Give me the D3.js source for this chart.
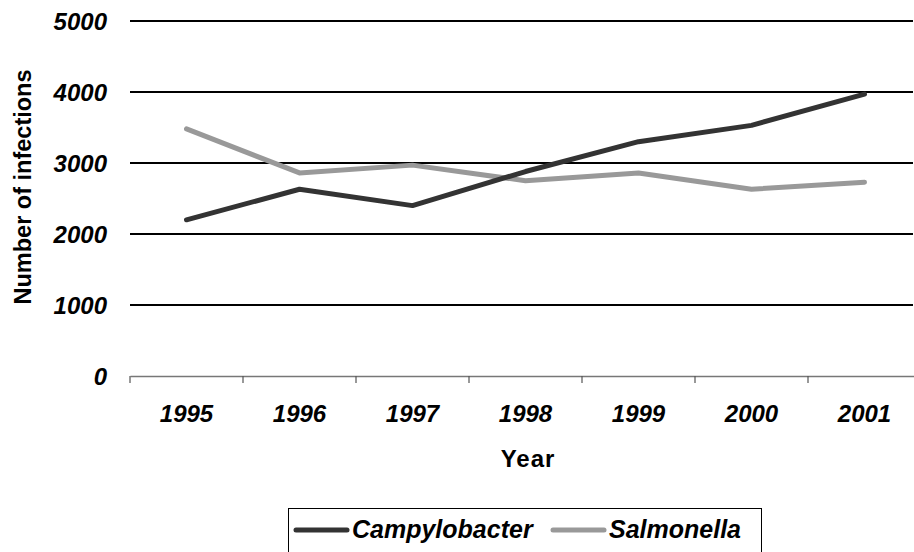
<!DOCTYPE html>
<html lang="en">
<head>
<meta charset="UTF-8">
<title>Infections</title>
<style>
  body { margin: 0; background: #fff; }
  text { font-family: "Liberation Sans", Arial, sans-serif; font-weight: bold; fill: #000; }
</style>
</head>
<body>
<script src="https://d3js.org/d3.v7.min.js"></script>
<script>
// data
var years = ["1995", "1996", "1997", "1998", "1999", "2000", "2001"];
var campylobacter = [2200, 2630, 2400, 2880, 3300, 3530, 3970];
var salmonella = [3480, 2860, 2970, 2750, 2860, 2630, 2730];
var yTicks = [0, 1000, 2000, 3000, 4000, 5000];

var width = 914, height = 552;
var svg = d3.select("body").append("svg").attr("width", width).attr("height", height);

var x = d3.scaleBand().domain(years).range([130, 921]);
var y = d3.scaleLinear().domain([0, 5000]).range([376, 21]);

// gridlines
svg.selectAll(".grid").data(yTicks.filter(function (d) { return d > 0; }))
  .enter().append("line")
  .attr("x1", 130).attr("x2", 913)
  .attr("y1", function (d) { return y(d); }).attr("y2", function (d) { return y(d); })
  .attr("stroke", "#000").attr("stroke-width", 2);

// y tick labels
svg.selectAll(".ylab").data(yTicks).enter().append("text")
  .attr("x", 107).attr("y", function (d) { return y(d); })
  .attr("dy", "0.36em").attr("text-anchor", "end")
  .style("font-style", "italic").style("font-size", "24px")
  .text(function (d) { return d; });

// x axis
var xAxis = svg.append("g").attr("transform", "translate(0," + y(0) + ")")
  .call(d3.axisBottom(x).tickSize(0).tickFormat(""));
xAxis.select(".domain").attr("stroke", "#777").attr("stroke-width", 1.5);
var edges = years.map(function (d) { return x(d); });
xAxis.selectAll(".edge").data(edges).enter().append("line")
  .attr("x1", function (d) { return d; }).attr("x2", function (d) { return d; })
  .attr("y1", 0).attr("y2", 7).attr("stroke", "#555").attr("stroke-width", 1.2);

svg.selectAll(".xlab").data(years).enter().append("text")
  .attr("x", function (d) { return x(d) + x.bandwidth() / 2; })
  .attr("y", 422).attr("text-anchor", "middle")
  .style("font-style", "italic").style("font-size", "24px")
  .text(function (d) { return d; });

// axis titles
svg.append("text").attr("x", 528).attr("y", 467).attr("text-anchor", "middle")
  .style("font-size", "24px").style("letter-spacing", "1px").text("Year");
svg.append("text").attr("transform", "translate(31,187) rotate(-90)")
  .attr("text-anchor", "middle").style("font-size", "23.5px").text("Number of infections");

// lines
var line = d3.line()
  .x(function (d, i) { return x(years[i]) + x.bandwidth() / 2; })
  .y(function (d) { return y(d); });

var series = [
  { name: "Campylobacter", values: campylobacter, color: "#333333" },
  { name: "Salmonella", values: salmonella, color: "#999999" }
];

svg.selectAll(".series").data(series.slice().reverse()).enter().append("path")
  .attr("d", function (s) { return line(s.values); })
  .attr("fill", "none").attr("stroke", function (s) { return s.color; })
  .attr("stroke-width", 5).attr("stroke-linecap", "round").attr("stroke-linejoin", "round");

// legend
var legend = svg.append("g");
legend.append("rect").attr("x", 288.5).attr("y", 508.5).attr("width", 473).attr("height", 60)
  .attr("fill", "#fff").attr("stroke", "#000").attr("stroke-width", 1);
var lx = [296, 553];
series.forEach(function (s, i) {
  legend.append("line").attr("x1", lx[i]).attr("x2", lx[i] + 51)
    .attr("y1", 530).attr("y2", 530).attr("stroke", s.color)
    .attr("stroke-width", 5).attr("stroke-linecap", "round");
  legend.append("text").attr("x", lx[i] + 56).attr("y", 538)
    .style("font-style", "italic").style("font-size", "25px").text(s.name);
});
</script>
</body>
</html>
